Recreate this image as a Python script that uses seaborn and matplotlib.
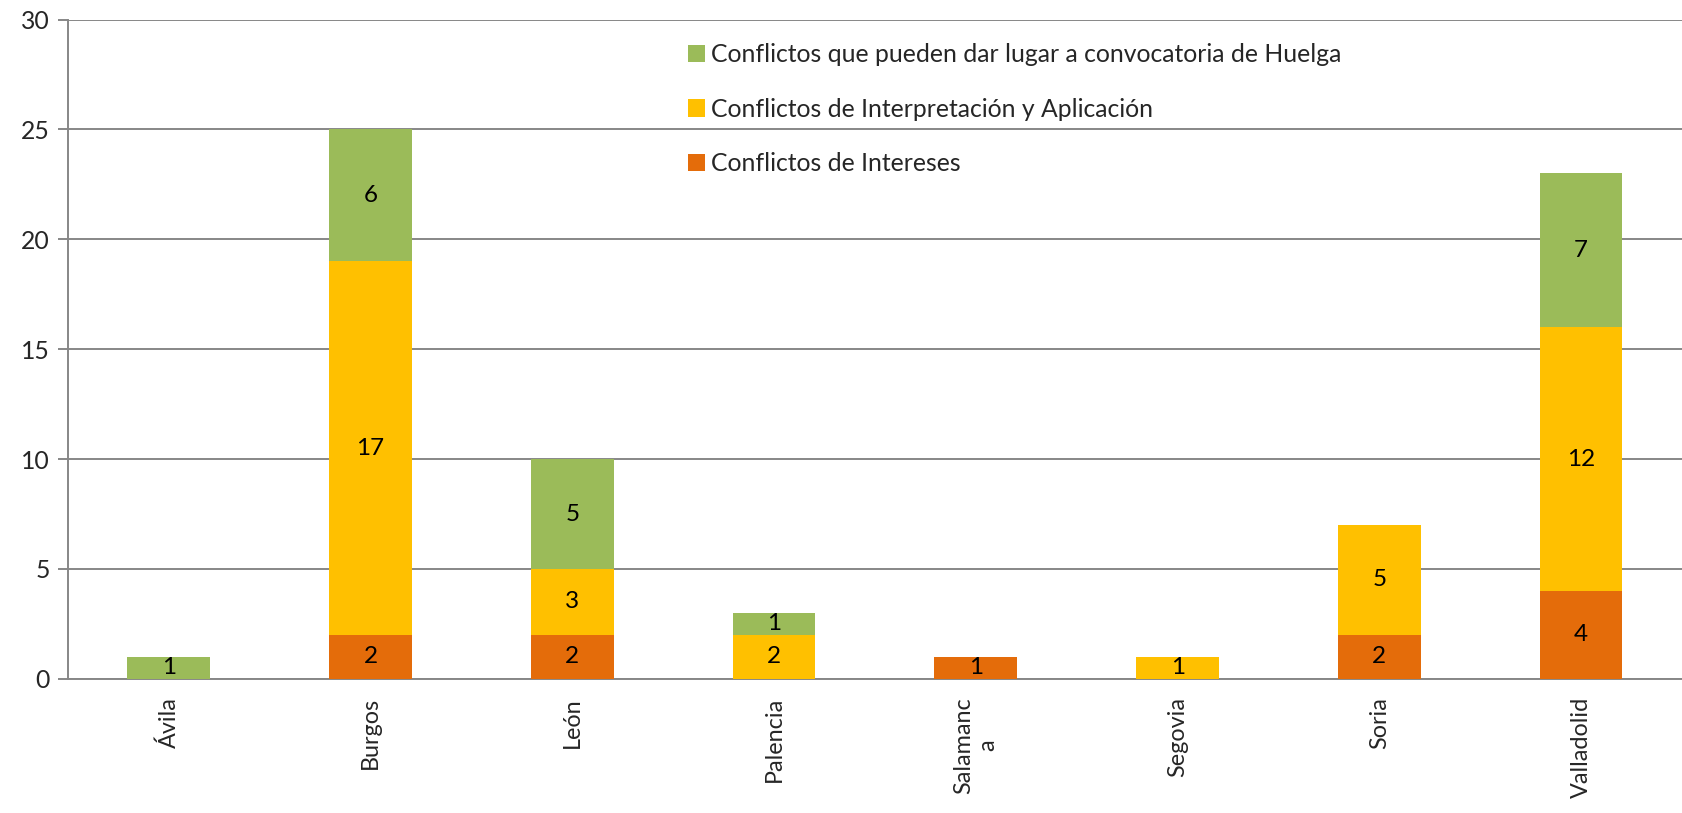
import numpy as np
import pandas as pd
import matplotlib
matplotlib.use('Agg')
import matplotlib.pyplot as plt
import seaborn as sns

provincias = ['Ávila', 'Burgos', 'León', 'Palencia', 'Salamanc\na', 'Segovia', 'Soria', 'Valladolid']
intereses = [0, 2, 2, 0, 1, 0, 2, 4]
interpretacion = [0, 17, 3, 2, 0, 1, 5, 12]
huelga = [1, 6, 5, 1, 0, 0, 0, 7]

series = [
    ('Conflictos de Intereses', intereses, '#E46C0A'),
    ('Conflictos de Interpretación y Aplicación', interpretacion, '#FFC000'),
    ('Conflictos que pueden dar lugar a convocatoria de Huelga', huelga, '#9BBB59'),
]

sns.set_style('white')
plt.rcParams['font.family'] = ['Lato', 'DejaVu Sans']
FS_TICK = 16.8
FS_LEG = 17.8
FS_LAB = 17.5
GRID = '#878787'

fig = plt.figure(figsize=(16.82, 8.13), dpi=100)
ax = fig.add_axes([0.0404, 0.165, 0.9596, 0.811])

# stacked bars: each series sits on top of the previous ones
bottom = np.zeros(len(provincias))
handles = []
for name, vals, color in series:
    df = pd.DataFrame({'provincia': provincias, 'valor': vals})
    sns.barplot(data=df, x='provincia', y='valor', order=provincias, color=color,
                width=0.41, bottom=bottom.copy(), saturation=1, linewidth=0, ax=ax,
                label=name, zorder=3)
    cont = ax.containers[-1]
    labels = [str(v) if v else '' for v in vals]
    ax.bar_label(cont, labels=labels, label_type='center', fontsize=FS_LAB, color='black')
    handles.append(cont)
    bottom += np.array(vals)

ax.set_xlim(-0.5, len(provincias) - 0.5)
ax.set_ylim(0, 30)
ax.set_yticks(range(0, 31, 5))
ax.yaxis.grid(True, color=GRID, linewidth=1.4, zorder=0)
ax.set_axisbelow(True)
ax.set_xlabel('')
ax.set_ylabel('')

ax.set_xticks(range(len(provincias)))
ax.set_xticklabels(provincias, rotation=90, fontsize=FS_TICK, va='top', ha='center')
ax.tick_params(axis='x', which='major', length=0, pad=13)
ax.set_xticks(np.arange(-0.5, len(provincias), 1), minor=True)
ax.tick_params(axis='x', which='minor', length=7, width=1.4, color=GRID, direction='out')
ax.tick_params(axis='y', labelsize=FS_LEG, length=7, width=1.4, color=GRID, direction='out', pad=6, left=True)

for s in ['top', 'right']:
    ax.spines[s].set_visible(False)
for s in ['left', 'bottom']:
    ax.spines[s].set_color(GRID)
    ax.spines[s].set_linewidth(1.4)

leg = ax.legend(handles[::-1], [s[0] for s in series][::-1], loc='upper left',
                bbox_to_anchor=(0.403, 0.959), bbox_transform=fig.transFigure,
                frameon=False, fontsize=FS_LEG, handlelength=0.7, handleheight=0.7,
                handletextpad=0.25, labelspacing=1.27, borderaxespad=0)

fig.savefig('out.png', dpi=100)
